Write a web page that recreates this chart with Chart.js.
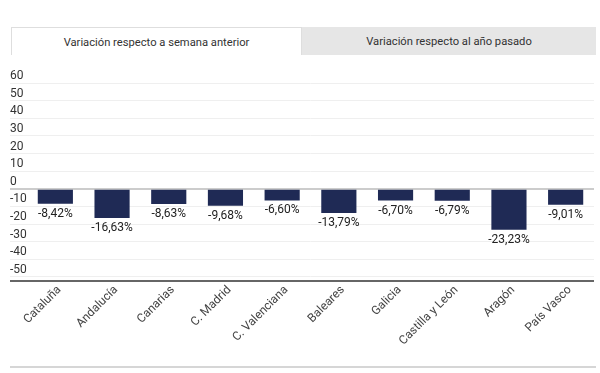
<!DOCTYPE html>
<html>
<head>
<meta charset="utf-8">
<script src="https://cdn.jsdelivr.net/npm/chart.js@4"></script>
<style>
  html, body { margin: 0; padding: 0; background: #fff; }
  body { width: 600px; height: 373px; position: relative; overflow: hidden; font-family: Roboto, "Noto Sans", sans-serif; }
  #wrap { position: absolute; left: 0; top: 0; width: 600px; height: 373px; }
  .tab { position: absolute; top: 27px; height: 28px; line-height: 29px; text-align: center; font-size: 11.2px; color: #333; box-sizing: border-box; z-index: 2; }
  #tab1 { left: 11px; width: 291px; background: #fff; border: 1px solid #dedede; border-bottom: none; }
  #tab2 { left: 302px; width: 294px; background: #e6e6e6; }
  #bottomline { position: absolute; left: 10px; top: 366px; width: 586px; height: 0; border-top: 2px solid #d6d6d6; z-index: 2; }
</style>
</head>
<body>
<div class="tab" id="tab1">Variación respecto a semana anterior</div>
<div class="tab" id="tab2">Variación respecto al año pasado</div>
<div id="wrap"><canvas id="c"></canvas></div>
<div id="bottomline"></div>
<script>
const categories = ["Cataluña", "Andalucía", "Canarias", "C. Madrid", "C. Valenciana", "Baleares", "Galicia", "Castilla y León", "Aragón", "País Vasco"];
const weeklyChange = [-8.42, -16.63, -8.63, -9.68, -6.60, -13.79, -6.70, -6.79, -23.23, -9.01];
const yTicks = [60, 50, 40, 30, 20, 10, 0, -10, -20, -30, -40, -50];
const yMin = -52.3;
const yMax = 60;

const fmt = v => v.toFixed(2).replace('.', ',') + '%';

const valueLabels = {
  id: 'valueLabels',
  afterDatasetsDraw(chart) {
    const ctx = chart.ctx;
    const meta = chart.getDatasetMeta(0);
    ctx.save();
    ctx.font = '12px Roboto';
    ctx.fillStyle = '#222';
    ctx.textAlign = 'center';
    ctx.textBaseline = 'top';
    meta.data.forEach((bar, i) => {
      ctx.fillText(fmt(weeklyChange[i]), bar.x, bar.y + 4);
    });
    ctx.restore();
  }
};

new Chart(document.getElementById('c'), {
  type: 'bar',
  data: {
    labels: categories,
    datasets: [{
      data: weeklyChange,
      backgroundColor: '#1f2a55',
      borderWidth: 0,
      categoryPercentage: 1,
      barPercentage: 0.62
    }]
  },
  options: {
    responsive: true,
    maintainAspectRatio: false,
    animation: false,
    layout: { padding: { left: 10, right: 6, top: 83, bottom: 0 } },
    plugins: { legend: { display: false }, tooltip: { enabled: false } },
    scales: {
      x: {
        grid: { display: false, drawTicks: false },
        border: { display: false },
        ticks: {
          minRotation: 45, maxRotation: 45, autoSkip: false, padding: 2, labelOffset: 4,
          color: '#444', font: { family: 'Roboto', size: 12 }
        },
        afterFit: s => { s.height = 92; }
      },
      y: {
        min: yMin, max: yMax,
        afterBuildTicks: s => { s.ticks = [yMin].concat(yTicks.slice().reverse()).map(v => ({ value: v })); },
        afterFit: s => { s.width = 17; },
        border: { display: false },
        grid: {
          drawTicks: true,
          tickLength: 17,
          color: c => c.tick.value === yMin ? '#666' : (c.tick.value === 0 ? '#cccccc' : '#efefef'),
          tickColor: c => c.tick.value === yMin ? '#666' : (c.tick.value === 0 ? '#cccccc' : '#efefef'),
          lineWidth: c => (c.tick.value === yMin || c.tick.value === 0) ? 2 : 1,
          tickWidth: c => (c.tick.value === yMin || c.tick.value === 0) ? 2 : 1
        },
        ticks: {
          autoSkip: false,
          crossAlign: 'far',
          padding: 0,
          labelOffset: -7,
          color: '#333',
          font: { family: 'Roboto', size: 12 },
          callback: v => v === yMin ? '' : String(v)
        }
      }
    }
  },
  plugins: [valueLabels]
});
</script>
</body>
</html>
